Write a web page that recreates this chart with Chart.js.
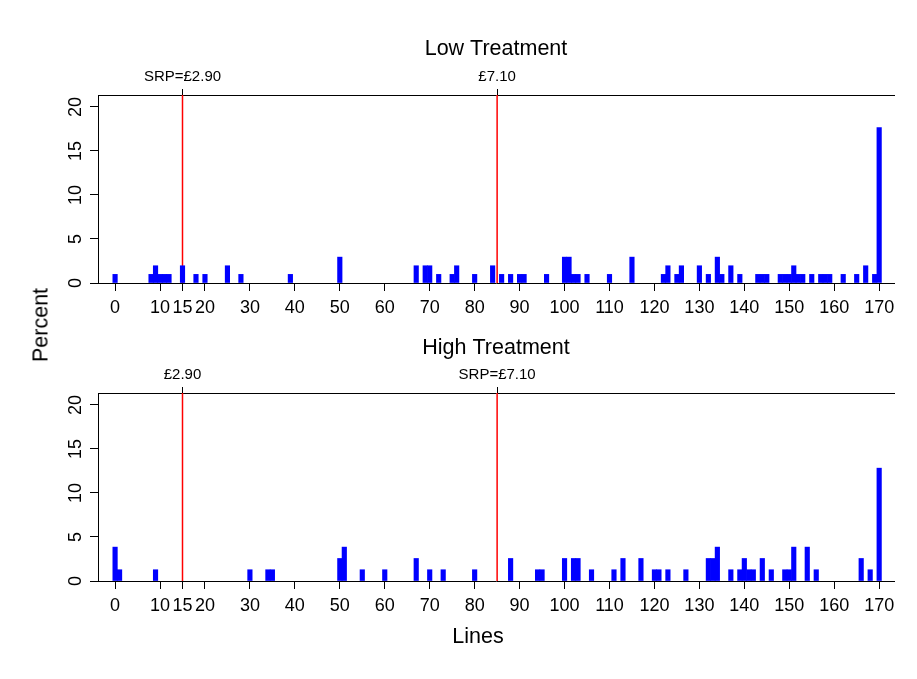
<!DOCTYPE html>
<html>
<head>
<meta charset="utf-8">
<script src="https://cdn.jsdelivr.net/npm/chart.js@4.4.0/dist/chart.umd.min.js"></script>
<style>
  body { margin: 0; background: #fff; }
  #page { position: relative; width: 917px; height: 679px; }
  .panel { position: absolute; left: 0; width: 917px; }
  .lab {
    position: absolute; font: 21.5px "Liberation Sans", Arial, sans-serif; color: #000;
    white-space: nowrap;
  }
  #ylab { left: 41px; top: 325px; transform: translate(-50%, -50%) rotate(-90deg); }
  #xlab { left: 478px; top: 636px; transform: translate(-50%, -50%); }
</style>
</head>
<body>
<div id="page">
  <div class="panel" style="top:0;height:320px"><canvas id="low"></canvas></div>
  <div class="panel" style="top:320px;height:329px"><canvas id="high"></canvas></div>
  <div class="lab" id="ylab">Percent</div>
  <div class="lab" id="xlab">Lines</div>
</div>
<script>
// tick labels
const xTicks = [0, 10, 15, 20, 30, 40, 50, 60, 70, 80, 90, 100, 110, 120, 130, 140, 150, 160, 170];
const yTicks = [0, 5, 10, 15, 20];

// red reference lines (number of lines) and their labels
const refLines = [15, 85];
const lowRefLabels = ["SRP=£2.90", "£7.10"];
const highRefLabels = ["£2.90", "SRP=£7.10"];

// Low treatment: lines -> percent
const lowX = [0, 8, 9, 10, 11, 12, 15, 18, 20, 25, 28, 39, 50, 67, 69, 70, 72, 75, 76, 80,
  84, 86, 88, 90, 91, 96, 100, 101, 102, 103, 105, 110, 115, 122, 123, 125, 126, 130, 132, 134,
  135, 137, 139, 143, 144, 145, 148, 149, 150, 151, 152, 153, 155, 157, 158, 159, 162, 165, 167, 169, 170];
const lowPct = [0.98, 0.98, 1.96, 0.98, 0.98, 0.98, 1.96, 0.98, 0.98, 1.96, 0.98, 0.98, 2.94, 1.96, 1.96, 1.96, 0.98, 0.98, 1.96, 0.98,
  1.96, 0.98, 0.98, 0.98, 0.98, 0.98, 2.94, 2.94, 0.98, 0.98, 0.98, 0.98, 2.94, 0.98, 1.96, 0.98, 1.96, 1.96, 0.98, 2.94,
  0.98, 1.96, 0.98, 0.98, 0.98, 0.98, 0.98, 0.98, 0.98, 1.96, 0.98, 0.98, 0.98, 0.98, 0.98, 0.98, 0.98, 0.98, 1.96, 0.98, 17.65];

// High treatment: lines -> percent
const highX = [0, 1, 9, 30, 34, 35, 50, 51, 55, 60, 67, 70, 73, 80, 88, 94, 95, 100, 102, 103,
  106, 111, 113, 117, 120, 121, 123, 127, 132, 133, 134, 137, 139, 140, 141, 142, 144, 146, 149, 150,
  151, 154, 156, 166, 168, 170];
const highPct = [3.85, 1.28, 1.28, 1.28, 1.28, 1.28, 2.56, 3.85, 1.28, 1.28, 2.56, 1.28, 1.28, 1.28, 2.56, 1.28, 1.28, 2.56, 2.56, 2.56,
  1.28, 1.28, 2.56, 2.56, 1.28, 1.28, 1.28, 1.28, 2.56, 2.56, 3.85, 1.28, 1.28, 2.56, 1.28, 1.28, 2.56, 1.28, 1.28, 1.28,
  3.85, 3.85, 1.28, 2.56, 1.28, 12.82];

const FONT = '"Liberation Sans", Arial, sans-serif';
Chart.defaults.font.family = FONT;
Chart.defaults.color = '#000';

const refLinePlugin = {
  id: 'refLines',
  beforeDatasetsDraw(chart) {
    const { ctx, chartArea, scales } = chart;
    ctx.save();
    ctx.strokeStyle = '#ff0000';
    ctx.lineWidth = 1.5;
    refLines.forEach(v => {
      const px = scales.x.getPixelForValue(v);
      ctx.beginPath();
      ctx.moveTo(px, chartArea.top);
      ctx.lineTo(px, chartArea.bottom);
      ctx.stroke();
    });
    ctx.restore();
  }
};

function makePanel(id, title, xs, ys, refLabels, p) {
  const points = xs.map((x, i) => ({ x: x, y: ys[i] }));
  return new Chart(document.getElementById(id), {
    type: 'bar',
    data: {
      datasets: [{
        data: points,
        backgroundColor: '#0000ff',
        borderWidth: 0,
        barPercentage: 1,
        categoryPercentage: 1
      }]
    },
    options: {
      responsive: true,
      maintainAspectRatio: false,
      animation: false,
      layout: { padding: { left: 0, right: 23, top: 0, bottom: 0 } },
      plugins: {
        legend: { display: false },
        tooltip: { enabled: false }
      },
      scales: {
        x: {
          type: 'linear', min: -3.8, max: 173.3, offset: false,
          afterBuildTicks: s => { s.ticks = xTicks.map(v => ({ value: v })); },
          afterFit: s => { s.height = p.xHeight; },
          grid: { drawOnChartArea: false, offset: false, tickLength: 8, color: '#000' },
          border: { display: true, color: '#000', width: 1 },
          ticks: { autoSkip: false, minRotation: 0, maxRotation: 0, padding: 6, color: '#000',
            font: { family: FONT, size: 18 } }
        },
        x2: {
          type: 'linear', position: 'top', min: -3.8, max: 173.3, offset: false,
          afterBuildTicks: s => { s.ticks = refLines.map(v => ({ value: v })); },
          afterFit: s => { s.height = p.x2Height; },
          grid: { drawOnChartArea: false, offset: false, tickLength: 6, color: '#000' },
          border: { display: true, color: '#000', width: 1 },
          ticks: { autoSkip: false, minRotation: 0, maxRotation: 0, padding: 3, color: '#000',
            font: { family: FONT, size: 15 }, callback: (v, i) => refLabels[i] },
          title: { display: true, text: title, color: '#000',
            font: { family: FONT, size: 21.5 }, padding: { top: p.titleTop, bottom: 0 } }
        },
        y: {
          min: 0, max: 21.36,
          afterBuildTicks: s => { s.ticks = yTicks.map(v => ({ value: v })); },
          afterFit: s => { s.width = 98; },
          grid: { drawOnChartArea: false, tickLength: 8, color: '#000' },
          border: { display: true, color: '#000', width: 1 },
          ticks: { minRotation: 90, maxRotation: 90, crossAlign: 'center', padding: 4, color: '#000',
            font: { family: FONT, size: 18 } }
        }
      }
    },
    plugins: [refLinePlugin]
  });
}

makePanel('low', 'Low Treatment', lowX, lowPct, lowRefLabels,
  { titleTop: 36.1, x2Height: 95, xHeight: 37 });
makePanel('high', 'High Treatment', highX, highPct, highRefLabels,
  { titleTop: 15.1, x2Height: 73, xHeight: 68 });
</script>
</body>
</html>
